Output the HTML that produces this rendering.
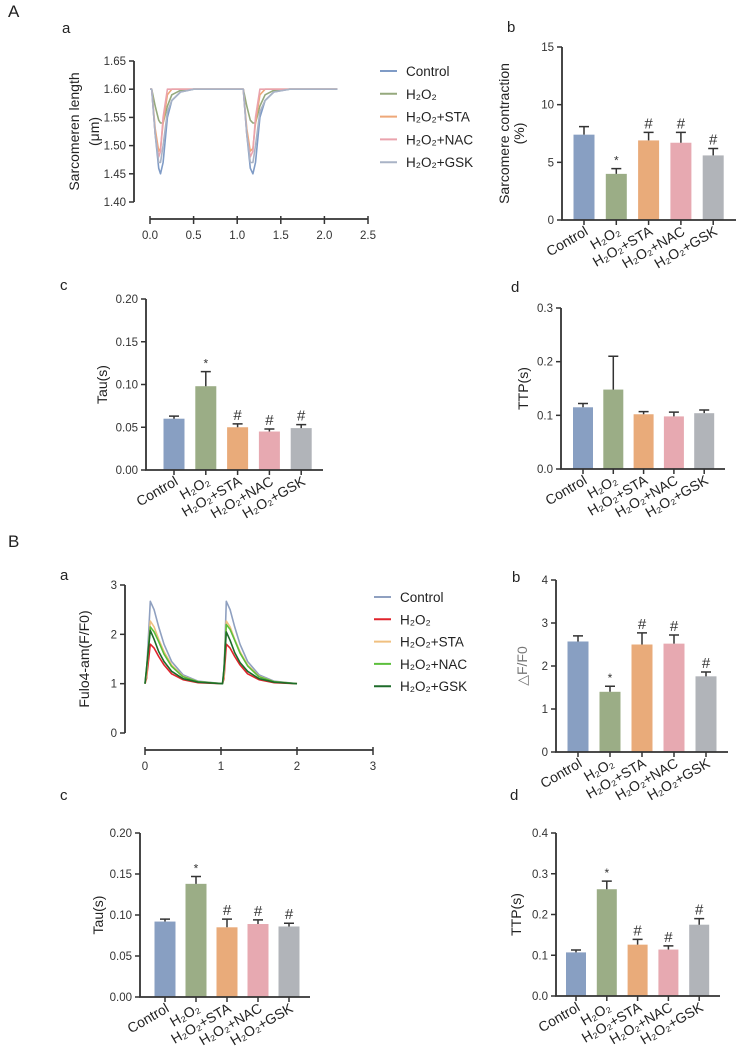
<!DOCTYPE html>
<html><head><meta charset="utf-8"><style>
body{margin:0;background:#fff;}
svg{display:block;font-family:"Liberation Sans","DejaVu Sans",sans-serif;}
</style></head><body>
<svg id="fig" width="743" height="1053" viewBox="0 0 743 1053"></svg>
<script>
const cats=["Control","H₂O₂","H₂O₂+STA","H₂O₂+NAC","H₂O₂+GSK"];
const colors=["#889fc2","#9bad86","#e9ab7a","#e7a9b1","#b1b4b9"];
// A-b
const abVals=[7.4,4.0,6.9,6.7,5.6];const abErr=[0.7,0.45,0.7,0.9,0.6];const abMarks=["","*","#","#","#"];const abTicks=[0,5,10,15];
// A-c
const acVals=[0.060,0.098,0.050,0.045,0.049];const acErr=[0.003,0.017,0.004,0.003,0.004];const acMarks=["","*","#","#","#"];const acTicks=["0.00","0.05","0.10","0.15","0.20"];
// A-d
const adVals=[0.115,0.148,0.102,0.098,0.104];const adErr=[0.007,0.062,0.005,0.008,0.006];const adMarks=["","","","",""];const adTicks=["0.0","0.1","0.2","0.3"];
// B-b
const bbVals=[2.57,1.40,2.50,2.52,1.76];const bbErr=[0.13,0.13,0.27,0.2,0.1];const bbMarks=["","*","#","#","#"];const bbTicks=[0,1,2,3,4];
// B-c
const bcVals=[0.092,0.138,0.085,0.089,0.086];const bcErr=[0.003,0.009,0.010,0.005,0.004];const bcMarks=["","*","#","#","#"];const bcTicks=["0.00","0.05","0.10","0.15","0.20"];
// B-d
const bdVals=[0.107,0.262,0.126,0.114,0.175];const bdErr=[0.006,0.02,0.013,0.009,0.015];const bdMarks=["","*","#","#","#"];const bdTicks=["0.0","0.1","0.2","0.3","0.4"];
// A-a sarcomere traces [t, length]
const aaT=[0,0.02,0.06,0.1,0.12,0.15,0.2,0.25,0.35,0.5,1.05,1.07,1.11,1.15,1.18,1.21,1.26,1.32,1.42,1.6,2.15];
const aaControl=[1.60,1.60,1.52,1.46,1.45,1.47,1.55,1.58,1.595,1.60,1.60,1.60,1.52,1.46,1.45,1.47,1.55,1.58,1.595,1.60,1.60];
const aaH2O2=[1.60,1.60,1.57,1.545,1.54,1.54,1.57,1.59,1.598,1.60,1.60,1.60,1.57,1.545,1.54,1.54,1.57,1.59,1.598,1.60,1.60];
const aaSTA=[1.60,1.60,1.53,1.49,1.495,1.54,1.59,1.60,1.60,1.60,1.60,1.60,1.53,1.49,1.495,1.54,1.59,1.60,1.60,1.60,1.60];
const aaNAC=[1.60,1.60,1.52,1.48,1.49,1.55,1.60,1.60,1.60,1.60,1.60,1.60,1.52,1.48,1.49,1.55,1.60,1.60,1.60,1.60,1.60];
const aaGSK=[1.60,1.60,1.52,1.47,1.47,1.50,1.56,1.58,1.595,1.60,1.60,1.60,1.52,1.47,1.47,1.50,1.56,1.58,1.595,1.60,1.60];
// B-a calcium traces [t, F/F0]
const baT=[0,0.02,0.07,0.12,0.18,0.25,0.35,0.5,0.7,1.02,1.04,1.07,1.12,1.18,1.25,1.35,1.5,1.7,2.0];
const baControl=[1,1.2,2.67,2.5,2.15,1.8,1.45,1.18,1.05,1,1.2,2.67,2.5,2.15,1.8,1.45,1.18,1.05,1];
const baH2O2=[1,1.1,1.8,1.72,1.55,1.38,1.2,1.08,1.02,1,1.1,1.8,1.72,1.55,1.38,1.2,1.08,1.02,1];
const baSTA=[1,1.15,2.27,2.15,1.9,1.65,1.38,1.15,1.04,1,1.15,2.27,2.15,1.9,1.65,1.38,1.15,1.04,1];
const baNAC=[1,1.3,2.15,2.05,1.85,1.6,1.35,1.14,1.04,1,1.3,2.2,2.1,1.88,1.62,1.36,1.14,1.04,1];
const baGSK=[1,1.3,2.08,1.9,1.65,1.45,1.25,1.1,1.03,1,1.3,2.05,1.88,1.63,1.43,1.25,1.1,1.03,1];

const svg=document.getElementById('fig');const NS="http://www.w3.org/2000/svg";
function mk(tag,attrs,parent){const e=document.createElementNS(NS,tag);for(const k in attrs)e.setAttribute(k,attrs[k]);(parent||svg).appendChild(e);return e;}
function txt(s,x,y,attrs,parent){const t=mk('text',Object.assign({x:x,y:y,'font-size':12,fill:'#222'},attrs||{}),parent);t.textContent=s;return t;}
const ax='#333';

function panelLabel(s,x,y,size){const t=txt(s,x,y,{'font-size':size||15});}

function barChart(id,c,vals,errs,marks,ticks,ymax){
  const g=mk('g',{});
  const Y=v=>c.y0-(v/ymax)*(c.y0-c.y1);
  vals.forEach((v,i)=>{
    const cx=c.bx[0]+i*(c.bx[1]-c.bx[0]);
    const b=mk('rect',{x:cx-c.bw/2,y:Y(v),width:c.bw,height:c.y0-Y(v),fill:colors[i]},g);
    
    const ye=Y(v+errs[i]);
    const e=mk('path',{d:`M${cx},${Y(v)} V${ye} M${cx-5},${ye} H${cx+5}`,stroke:ax,'stroke-width':1.5,fill:'none'},g);
    
    if(marks[i]){const m=txt(marks[i],cx,ye-4,{'text-anchor':'middle','font-size':marks[i]=='*'?12:15,fill:'#333'},g);}
    mk('line',{x1:cx,y1:c.y0,x2:cx,y2:c.y0+5,stroke:ax,'stroke-width':1.5},g);
    if(c.xlabels){const l=txt(cats[i],cx+5,c.y0+14,{'text-anchor':'end','font-size':14,transform:`rotate(-30 ${cx+5} ${c.y0+14})`},g);}
  });
  const a=mk('path',{d:`M${c.x0},${c.y1} V${c.y0} H${c.x2}`,stroke:ax,'stroke-width':1.8,fill:'none'},g);
  
  ticks.forEach(t=>{const y=Y(parseFloat(t));mk('line',{x1:c.x0-5,y1:y,x2:c.x0,y2:y,stroke:ax,'stroke-width':1.5},g);
    const l=txt(String(t),c.x0-8,y+4,{'text-anchor':'end','font-size':11.5,fill:'#333'},g);});
  const lines=c.ylabel;const cy=(c.y0+c.y1)/2;
  lines.forEach((s,k)=>{const x=c.lx+k*15;const l=txt(s,x,cy,{'text-anchor':'middle','font-size':14,fill:c.lcol||'#222',transform:`rotate(-90 ${x} ${cy})`},g);});
}

function lineChart(id,c,T,series,names,cols,yticks,xticks){
  const g=mk('g',{});
  const Y=v=>c.y0-(v-c.ymin)/(c.ymax-c.ymin)*(c.y0-c.y1);
  const X=t=>c.xa+(t-c.xmin)/(c.xmax-c.xmin)*(c.xb-c.xa);
  series.forEach((s,i)=>{const p=mk('polyline',{points:s.map((v,j)=>X(T[j]).toFixed(1)+','+Y(v).toFixed(1)).join(' '),fill:'none',stroke:cols[i],'stroke-width':1.6,'stroke-linejoin':'round'},g);
    });
  const a=mk('line',{x1:c.x0,y1:c.y1,x2:c.x0,y2:c.y0,stroke:ax,'stroke-width':1.8},g);
  yticks.forEach(t=>{const y=Y(parseFloat(t));mk('line',{x1:c.x0-5,y1:y,x2:c.x0,y2:y,stroke:ax,'stroke-width':1.5},g);
    const l=txt(t,c.x0-8,y+4,{'text-anchor':'end','font-size':11.5,fill:'#333'},g);});
  const xa=mk('line',{x1:c.xa,y1:c.xy,x2:c.xb,y2:c.xy,stroke:ax,'stroke-width':1.8},g);
  xticks.forEach(t=>{const x=X(parseFloat(t));mk('line',{x1:x,y1:c.xy-3,x2:x,y2:c.xy+5,stroke:ax,'stroke-width':1.5},g);
    const l=txt(t,x,c.xy+20,{'text-anchor':'middle','font-size':11.5,fill:'#333'},g);});
  const cy=(c.y0+c.y1)/2;
  c.ylabel.forEach((s,k)=>{const x=c.lx+k*20;const l=txt(s,x,cy,{'text-anchor':'middle','font-size':14,transform:`rotate(-90 ${x} ${cy})`},g);});
  names.forEach((n,i)=>{const y=c.ly+i*c.ld;const e=mk('g',{},g);
    mk('line',{x1:c.lgx,y1:y,x2:c.lgx+17,y2:y,stroke:cols[i],'stroke-width':2},e);txt(n,c.lgx+26,y+5,{'font-size':13.5},e);});
}

panelLabel('A',8,17,17);panelLabel('a',62,33);panelLabel('b',507,32);panelLabel('c',60,290);panelLabel('d',511,292);
panelLabel('B',8,547,17);panelLabel('a',60,580);panelLabel('b',512,582);panelLabel('c',60,800);panelLabel('d',510,800);

const lnA=["#7f9bc6","#95a97d","#eea879","#eaa3ad","#a9b3c6"];
lineChart('aa',{x0:134,y0:202,y1:61,ymin:1.40,ymax:1.65,xa:150,xb:368,xmin:0,xmax:2.5,xy:219,lx:79,ly:71,ld:22.8,lgx:380,ylabel:["Sarcomeren length","(μm)"]},
  aaT,[aaControl,aaH2O2,aaSTA,aaNAC,aaGSK],cats,lnA,["1.40","1.45","1.50","1.55","1.60","1.65"],["0.0","0.5","1.0","1.5","2.0","2.5"]);
const lnB=["#8fa0c0","#e0232c","#f0c080","#5cbf3c","#1e6b2a"];
lineChart('ba',{x0:125,y0:733,y1:585,ymin:0,ymax:3,xa:145,xb:373,xmin:0,xmax:3,xy:750,lx:89,ly:597,ld:22.3,lgx:374,ylabel:["Fulo4-am(F/F0)"]},
  baT,[baControl,baH2O2,baSTA,baNAC,baGSK],cats,lnB,["0","1","2","3"],["0","1","2","3"]);

barChart('ab',{x0:562,y0:220,y1:47,x2:736,bx:[584,616.3],bw:21,xlabels:true,lx:509,ylabel:["Sarcomere contraction","(%)"]},abVals,abErr,abMarks,abTicks,15);
barChart('ac',{x0:146,y0:470,y1:299,x2:323,bx:[174,205.8],bw:21,xlabels:true,lx:107,ylabel:["Tau(s)"]},acVals,acErr,acMarks,acTicks,0.20);
barChart('ad',{x0:561,y0:469,y1:308,x2:725,bx:[583,613.3],bw:20,xlabels:true,lx:528,ylabel:["TTP(s)"]},adVals,adErr,adMarks,adTicks,0.3);
barChart('bb',{x0:556,y0:752,y1:580,x2:728,bx:[578,610],bw:21,xlabels:true,lx:527,lcol:'#777',ylabel:["△F/F0"]},bbVals,bbErr,bbMarks,bbTicks,4);
barChart('bc',{x0:140,y0:997,y1:833,x2:310,bx:[165,196],bw:21,xlabels:true,lx:103,ylabel:["Tau(s)"]},bcVals,bcErr,bcMarks,bcTicks,0.20);
barChart('bd',{x0:556,y0:996,y1:833,x2:720,bx:[576,606.8],bw:20,xlabels:true,lx:521,ylabel:["TTP(s)"]},bdVals,bdErr,bdMarks,bdTicks,0.4);
</script>
</body></html>
